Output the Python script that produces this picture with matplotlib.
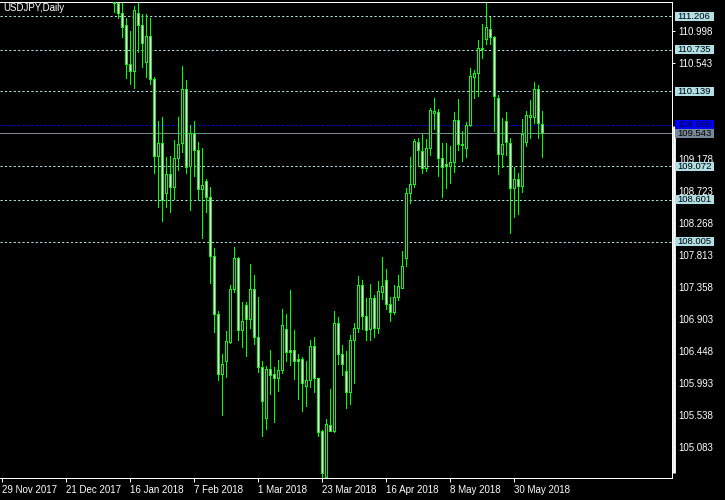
import matplotlib
matplotlib.use("Agg")
import matplotlib.pyplot as plt
from matplotlib.patches import Rectangle
from matplotlib.transforms import blended_transform_factory

plt.rcParams['font.family'] = ['Liberation Sans', 'DejaVu Sans']

# USDJPY daily bars, 29 Nov 2017 .. 8 Jun 2018 (first bars sit above the visible range)
opens = [
    111.65, 112.00, 112.55, 112.55, 112.75, 112.60, 112.30, 113.05, 113.50, 113.55,
    113.50, 112.60, 112.40, 112.60, 112.60, 112.90, 113.30, 113.40, 113.25, 113.20,
    113.20, 112.85, 112.70, 112.30, 112.50, 112.75, 113.05, 113.10, 112.60, 111.40,
    111.25, 111.08, 110.53, 110.43, 111.26, 111.09, 110.56, 110.93, 110.31, 109.22,
    109.40, 108.70, 108.97, 108.78, 109.19, 109.40, 110.18, 109.08, 109.55, 109.31,
    108.75, 108.86, 108.64, 107.80, 106.98, 106.12, 106.31, 106.57, 107.33, 107.77,
    106.75, 107.10, 106.90, 107.33, 106.65, 106.22, 105.49, 106.19, 106.12, 106.06,
    106.18, 106.76, 106.46, 106.46, 106.33, 106.34, 105.95, 106.03, 106.52, 106.06,
    105.31, 104.65, 105.40, 105.31, 106.84, 106.41, 106.16, 105.87, 106.60, 106.77,
    107.39, 106.94, 106.76, 107.20, 106.78, 107.29, 107.46, 107.11, 107.00, 107.22,
    107.35, 107.77, 108.70, 108.82, 109.42, 109.29, 109.05, 109.34, 109.83, 109.84,
    109.19, 109.11, 109.08, 109.13, 109.74, 109.39, 109.33, 109.66, 110.35, 110.40,
    110.76, 110.88, 111.02, 110.91, 110.05, 109.25, 109.72, 109.40, 108.76, 108.90,
    108.80, 109.42, 109.78, 109.77, 110.18, 109.68,
]
highs = [
    112.15, 112.70, 112.90, 113.00, 112.85, 112.70, 113.10, 113.60, 113.70, 113.75,
    113.55, 112.80, 112.75, 112.75, 113.10, 113.45, 113.55, 113.45, 113.40, 113.35,
    113.30, 112.95, 112.75, 112.60, 112.90, 113.10, 113.35, 113.15, 112.80, 111.55,
    111.40, 111.19, 111.00, 111.35, 111.40, 111.24, 111.24, 111.19, 110.35, 109.72,
    109.78, 109.21, 109.22, 109.45, 109.77, 110.50, 110.30, 109.66, 109.72, 109.42,
    109.33, 108.89, 108.78, 107.91, 107.02, 106.40, 106.73, 107.39, 107.92, 107.78,
    107.14, 107.14, 107.69, 107.53, 107.21, 106.30, 106.24, 106.46, 106.22, 106.32,
    107.04, 106.97, 107.31, 106.75, 106.41, 106.36, 106.30, 106.60, 106.64, 106.07,
    105.33, 105.48, 105.91, 107.02, 106.93, 106.53, 106.45, 106.67, 106.85, 107.51,
    107.46, 107.20, 107.40, 107.25, 107.44, 107.79, 107.61, 107.22, 107.39, 107.53,
    107.87, 108.76, 109.21, 109.46, 109.47, 109.54, 109.46, 109.90, 110.04, 109.89,
    109.40, 109.40, 109.36, 109.84, 110.03, 109.58, 109.71, 110.47, 110.44, 110.87,
    111.10, 111.40, 111.20, 110.93, 110.09, 109.76, 109.84, 109.47, 109.07, 108.98,
    109.75, 109.86, 110.02, 110.28, 110.23, 109.86,
]
lows = [
    111.60, 111.85, 111.70, 112.40, 112.30, 112.05, 112.20, 112.90, 113.30, 113.30,
    112.50, 112.30, 111.95, 112.50, 112.50, 112.75, 113.15, 113.20, 113.10, 113.00,
    112.65, 112.60, 112.10, 112.15, 112.40, 112.70, 112.95, 112.50, 111.27, 111.18,
    110.92, 110.33, 110.25, 110.19, 110.70, 110.49, 110.35, 110.25, 108.98, 108.50,
    108.29, 108.50, 108.42, 108.61, 109.02, 109.28, 108.98, 108.45, 108.94, 108.59,
    108.05, 108.43, 107.41, 106.72, 106.03, 105.54, 106.08, 106.56, 107.28, 106.60,
    106.51, 106.37, 106.78, 106.55, 106.15, 105.24, 105.34, 105.84, 105.44, 105.88,
    106.14, 106.30, 106.25, 106.05, 105.77, 105.60, 105.67, 105.93, 105.87, 105.24,
    104.63, 104.63, 105.31, 105.30, 106.26, 106.10, 105.64, 105.69, 105.99, 106.72,
    106.76, 106.60, 106.60, 106.65, 106.70, 107.19, 107.04, 106.88, 106.98, 107.18,
    107.35, 107.66, 108.55, 108.78, 109.08, 108.98, 109.01, 109.23, 109.60, 108.93,
    108.64, 108.76, 108.83, 109.00, 109.31, 109.15, 109.21, 109.65, 110.04, 110.08,
    110.62, 110.81, 110.81, 109.57, 108.96, 109.07, 109.23, 108.12, 108.35, 108.39,
    108.71, 109.37, 109.47, 109.69, 109.47, 109.20,
]
closes = [
    112.00, 112.55, 112.15, 112.75, 112.60, 112.30, 113.05, 113.50, 113.55, 113.50,
    112.60, 112.40, 112.60, 112.60, 112.90, 113.30, 113.40, 113.25, 113.20, 113.20,
    112.85, 112.70, 112.30, 112.50, 112.75, 113.05, 113.10, 112.60, 111.40, 111.25,
    111.06, 110.53, 110.43, 111.30, 111.09, 110.83, 110.93, 110.31, 109.22, 109.41,
    108.60, 108.97, 108.78, 109.19, 109.39, 110.18, 109.07, 109.55, 109.30, 108.75,
    108.81, 108.64, 107.80, 106.98, 106.12, 106.26, 106.59, 107.33, 107.77, 106.75,
    106.88, 106.90, 107.33, 106.65, 106.22, 105.73, 106.19, 106.10, 106.06, 106.18,
    106.82, 106.44, 106.44, 106.31, 106.31, 105.99, 106.03, 106.52, 106.06, 105.30,
    104.72, 105.41, 105.31, 106.84, 106.41, 106.27, 105.87, 106.60, 106.77, 107.39,
    106.94, 106.74, 107.20, 106.78, 107.30, 107.37, 107.11, 107.00, 107.22, 107.37,
    107.66, 108.70, 108.82, 109.43, 109.30, 109.05, 109.33, 109.87, 109.86, 109.19,
    109.07, 109.08, 109.13, 109.74, 109.39, 109.38, 109.66, 110.36, 110.40, 110.75,
    110.74, 111.05, 110.91, 110.08, 109.25, 109.39, 109.42, 108.76, 108.90, 108.80,
    109.53, 109.81, 109.81, 110.18, 109.69, 109.543,
]

date_labels = ['29 Nov 2017', '21 Dec 2017', '16 Jan 2018', '7 Feb 2018', '1 Mar 2018',
               '23 Mar 2018', '16 Apr 2018', '8 May 2018', '30 May 2018']
date_every = 16

# scale labels (110.088 and 109.633 sit under the level boxes, so they are left out)
price_ticks = [105.083, 105.538, 105.993, 106.448, 106.903, 107.358, 107.813,
               108.268, 108.723, 109.178, 110.543, 110.998]

level_lines = [111.206, 110.735, 110.139, 109.072, 108.601, 108.005]
blue_level = 109.668
bid_level = 109.543

GREEN = '#00FF00'
LBLUE = '#B0E0E6'
GRAY = '#778899'
LW = 0.72  # ~1 px

fig = plt.figure(figsize=(7.25, 5.0), dpi=100, facecolor='black')
ax = fig.add_axes([0.0, 22 / 500, 672 / 725, 476 / 500])
ax.set_facecolor('black')

# level lines behind the candles
for lv in level_lines:
    ax.axhline(lv, color=LBLUE, lw=LW, dashes=(2.2, 2.2), zorder=1)
ax.axhline(blue_level, color='#0000FF', lw=LW, dashes=(2.2, 2.2), zorder=1)
ax.axhline(bid_level, color=GRAY, lw=LW, zorder=1)

# candles
xs = list(range(len(opens)))
ax.vlines(xs, lows, highs, colors=GREEN, lw=LW, zorder=2, antialiased=False)
for i, (o, c) in enumerate(zip(opens, closes)):
    fill = 'black' if c >= o else 'white'
    ax.add_patch(Rectangle((i - 0.25, min(o, c)), 0.5, abs(c - o),
                           facecolor=fill, edgecolor=GREEN, lw=LW, zorder=3,
                           antialiased=False))

ax.set_xlim(-0.575, 167.4)
ax.set_ylim(104.642, 111.411)

# frame
for side in ['top', 'right', 'bottom']:
    ax.spines[side].set_color('white')
    ax.spines[side].set_linewidth(LW)
ax.spines['left'].set_visible(False)

# price scale on the right
ax.yaxis.tick_right()
ax.set_yticks(price_ticks)
ax.set_yticklabels([f'{v:.3f}' for v in price_ticks])
ax.tick_params(axis='y', colors='white', length=2.5, width=LW, pad=1.8, labelsize=7)

# date scale
ax.set_xticks([k * date_every for k in range(len(date_labels))])
ax.set_xticklabels(date_labels)
ax.tick_params(axis='x', colors='white', length=3, width=LW, pad=1.8, labelsize=7)
for lab in ax.get_xticklabels():
    lab.set_horizontalalignment('left')

# thick marker on the price scale
ax.plot([1.0025, 1.0025], [0.0099, 0.7395], transform=ax.transAxes, color='white',
        lw=2.0, clip_on=False, zorder=5, solid_capstyle='butt')

# boxed price labels
tr = blended_transform_factory(ax.transAxes, ax.transData)
box_h = 0.0625
def price_box(val, fc, tc):
    ax.add_patch(Rectangle((1 + 3 / 672, val - box_h), 39 / 672, 2 * box_h,
                           transform=tr, facecolor=fc, edgecolor='none',
                           clip_on=False, zorder=6))
    ax.text(1 + 5 / 672, val, f'{val:.3f}', transform=tr, color=tc, fontsize=6.8,
            va='center', ha='left', clip_on=False, zorder=7)

for lv in level_lines:
    price_box(lv, LBLUE, 'black')
price_box(blue_level, '#0000FF', '#000030')
price_box(bid_level, GRAY, 'black')

fig.text(3 / 725, 1 - 3 / 500, 'USDJPY,Daily', color='white', fontsize=7,
         ha='left', va='top')

fig.savefig('out.png', dpi=100, facecolor='black')
